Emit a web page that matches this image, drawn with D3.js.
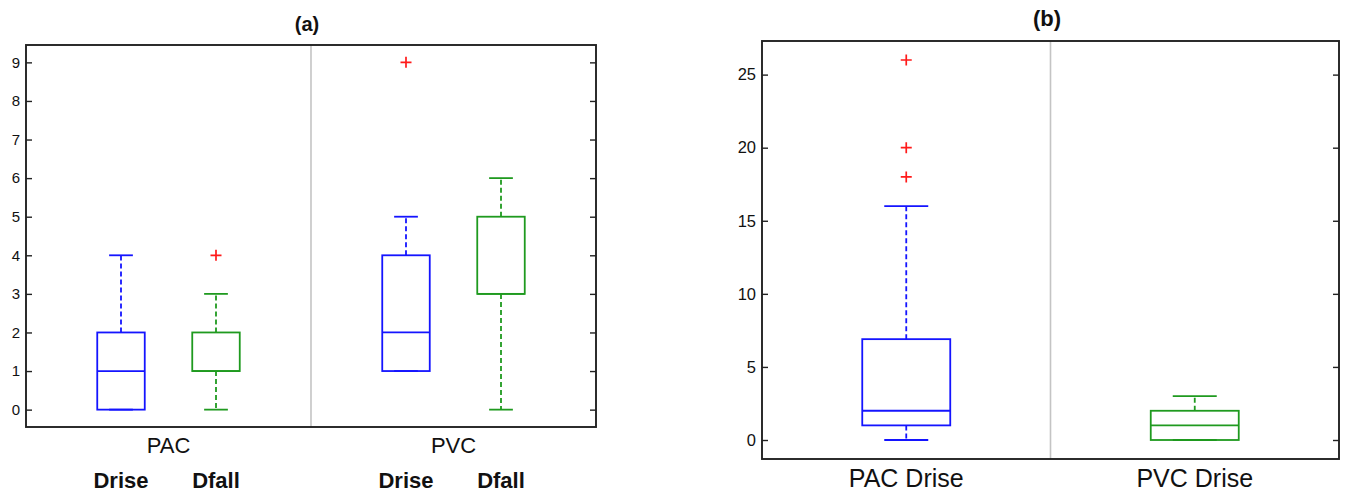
<!DOCTYPE html>
<html>
<head>
<meta charset="utf-8">
<script src="https://cdn.jsdelivr.net/npm/d3@7/dist/d3.min.js"></script>
<style>
  html, body { margin: 0; padding: 0; background: #fff; }
  svg { display: block; }
  text { font-family: "Liberation Sans", Arial, sans-serif; fill: #111; }
</style>
</head>
<body>
<svg id="chart" width="1350" height="496"></svg>
<script>
// ---- Panel (a): PAC / PVC, Drise and Dfall ----
const aGroups = ["PAC", "PVC"];
const aSeries = ["Drise", "Dfall"];
const aLow     = [0, 0, 1, 0];
const aQ1      = [0, 1, 1, 3];
const aMedian  = [1, 1, 2, 3];
const aQ3      = [2, 2, 4, 5];
const aHigh    = [4, 3, 5, 6];
const aOutliers = [[], [4], [9], []];
const aTicks   = [0, 1, 2, 3, 4, 5, 6, 7, 8, 9];

// ---- Panel (b): Drise only ----
const bLabels  = ["PAC Drise", "PVC Drise"];
const bLow     = [0, 0];
const bQ1      = [1, 0];
const bMedian  = [2, 1];
const bQ3      = [6.9, 2];
const bHigh    = [16, 3];
const bOutliers = [[18, 20, 26], []];
const bTicks   = [0, 5, 10, 15, 20, 25];

const seriesColor = ["#1414ff", "#1f9a1f"];
const svg = d3.select("#chart");

function drawPanel(cfg) {
  const g = svg.append("g");
  const x = cfg.x, y = cfg.y;
  const [x0, x1] = x.range();
  const [yb, yt] = y.range();

  // group separator
  g.append("line")
    .attr("x1", x(cfg.sep)).attr("x2", x(cfg.sep))
    .attr("y1", yt).attr("y2", yb)
    .attr("stroke", "#c4c4c4").attr("stroke-width", 1.6);

  // left axis with labels, right axis ticks only (ticks point inward)
  const left = g.append("g").attr("transform", `translate(${x0},0)`)
    .call(d3.axisLeft(y).tickValues(cfg.ticks).tickSize(-6).tickPadding(6));
  left.select(".domain").remove();
  left.selectAll(".tick line").attr("stroke", "#222").attr("stroke-width", 1.4);
  left.selectAll(".tick text")
    .attr("font-size", cfg.tickFont)
    .attr("font-family", "Liberation Sans, Arial, sans-serif")
    .attr("fill", "#1a1a1a");

  const right = g.append("g").attr("transform", `translate(${x1},0)`)
    .call(d3.axisRight(y).tickValues(cfg.ticks).tickSize(-6).tickFormat(""));
  right.select(".domain").remove();
  right.selectAll(".tick line").attr("stroke", "#222").attr("stroke-width", 1.4);

  // boxes
  cfg.pos.forEach((p, i) => {
    const c = cfg.colors[i];
    const cx = x(p);
    const hw = (x(p + cfg.boxW / 2) - x(p - cfg.boxW / 2)) / 2;
    const cw = hw / 2;
    const b = g.append("g").attr("fill", "none").attr("stroke", c).attr("stroke-width", 1.8);

    // whiskers (dashed)
    b.append("line").attr("x1", cx).attr("x2", cx)
      .attr("y1", y(cfg.q3[i])).attr("y2", y(cfg.high[i]))
      .attr("stroke-dasharray", "5,3");
    b.append("line").attr("x1", cx).attr("x2", cx)
      .attr("y1", y(cfg.q1[i])).attr("y2", y(cfg.low[i]))
      .attr("stroke-dasharray", "5,3");
    // whisker caps
    [cfg.high[i], cfg.low[i]].forEach(v => {
      b.append("line").attr("x1", cx - cw).attr("x2", cx + cw)
        .attr("y1", y(v)).attr("y2", y(v));
    });
    // box
    b.append("rect")
      .attr("x", cx - hw).attr("width", 2 * hw)
      .attr("y", y(cfg.q3[i])).attr("height", y(cfg.q1[i]) - y(cfg.q3[i]));
    // median
    b.append("line").attr("x1", cx - hw).attr("x2", cx + hw)
      .attr("y1", y(cfg.median[i])).attr("y2", y(cfg.median[i]));
    // outliers
    cfg.outliers[i].forEach(v => {
      const s = 5.5;
      g.append("path")
        .attr("d", `M${cx - s},${y(v)}H${cx + s}M${cx},${y(v) - s}V${y(v) + s}`)
        .attr("stroke", "#ff1a1a").attr("stroke-width", 1.7).attr("fill", "none");
    });
  });

  // frame
  g.append("rect")
    .attr("x", x0).attr("y", yt).attr("width", x1 - x0).attr("height", yb - yt)
    .attr("fill", "none").attr("stroke", "#222").attr("stroke-width", 1.9);

  // title
  g.append("text")
    .attr("x", cfg.titleX).attr("y", cfg.titleY)
    .attr("text-anchor", "middle")
    .attr("font-size", cfg.titleFont).attr("font-weight", "bold")
    .text(cfg.title);
  return g;
}

// Panel (a)
const xA = d3.scaleLinear().domain([0, 6]).range([26, 596]);
const yA = d3.scaleLinear().domain([-0.45, 9.45]).range([427, 45]);
const aPos = [1, 2, 4, 5];
const gA = drawPanel({
  x: xA, y: yA, sep: 3, ticks: aTicks, tickFont: 15,
  pos: aPos, boxW: 0.5,
  colors: aPos.map((_, i) => seriesColor[i % 2]),
  low: aLow, q1: aQ1, median: aMedian, q3: aQ3, high: aHigh, outliers: aOutliers,
  title: "(a)", titleX: 307, titleY: 31, titleFont: 20
});
aGroups.forEach((grp, gi) => {
  gA.append("text")
    .attr("x", xA((aPos[gi * 2] + aPos[gi * 2 + 1]) / 2)).attr("y", 453)
    .attr("text-anchor", "middle").attr("font-size", 22)
    .text(grp);
  aSeries.forEach((s, si) => {
    gA.append("text")
      .attr("x", xA(aPos[gi * 2 + si])).attr("y", 488)
      .attr("text-anchor", "middle").attr("font-size", 22).attr("font-weight", "bold")
      .text(s);
  });
});

// Panel (b)
const xB = d3.scaleLinear().domain([0.5, 2.5]).range([762, 1339]);
const yB = d3.scaleLinear().domain([-1.3, 27.3]).range([459, 41]);
const bPos = [1, 2];
const gB = drawPanel({
  x: xB, y: yB, sep: 1.5, ticks: bTicks, tickFont: 16.5,
  pos: bPos, boxW: 0.305,
  colors: seriesColor,
  low: bLow, q1: bQ1, median: bMedian, q3: bQ3, high: bHigh, outliers: bOutliers,
  title: "(b)", titleX: 1047, titleY: 26, titleFont: 22
});
bLabels.forEach((lab, i) => {
  gB.append("text")
    .attr("x", xB(bPos[i])).attr("y", 487)
    .attr("text-anchor", "middle").attr("font-size", 25)
    .text(lab);
});
</script>
</body>
</html>
